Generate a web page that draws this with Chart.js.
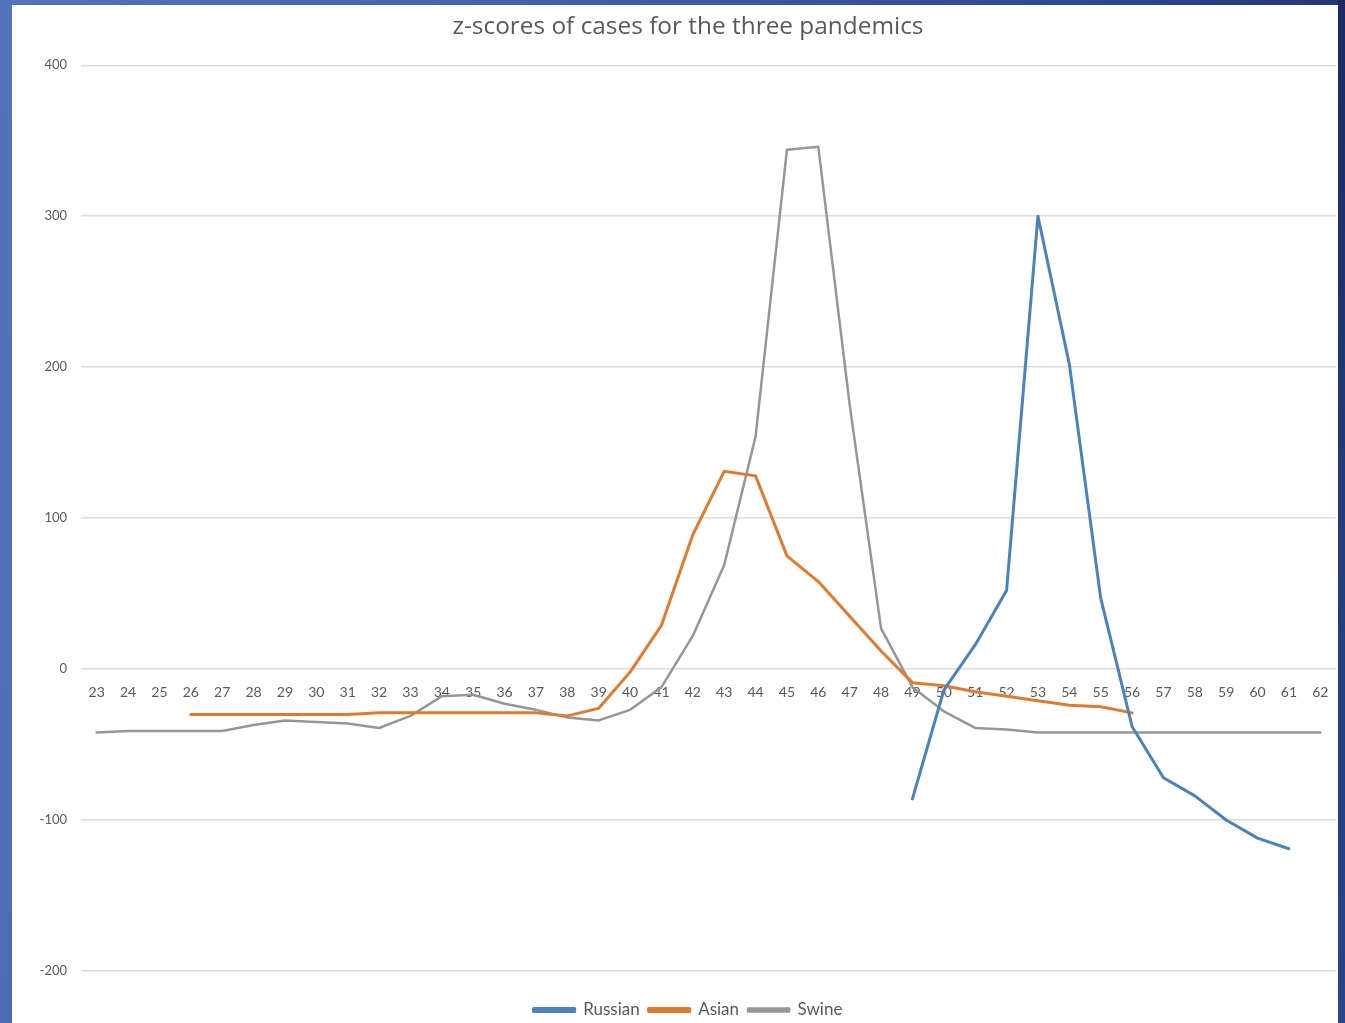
<!DOCTYPE html>
<html>
<head>
<meta charset="utf-8">
<title>z-scores of cases for the three pandemics</title>
<script src="https://cdn.jsdelivr.net/npm/chart.js@4"></script>
<style>
  html, body { margin: 0; padding: 0; }
  body {
    width: 1345px; height: 1023px; overflow: hidden; position: relative;
    background: linear-gradient(100deg, #5473bc 0%, #3e5ea8 40%, #2b458a 75%, #1b2a62 100%);
  }
  #panel {
    position: absolute; left: 12px; top: 5px; width: 1326px; height: 1018px;
    background: #ffffff;
  }
  #wrap {
    position: absolute; left: 12px; top: 5px; width: 1352px; height: 1018px;
  }
  #edge {
    position: absolute; left: 1338px; top: 0; width: 7px; height: 1023px;
    background: linear-gradient(180deg, #1b2a62 0%, #243a7a 50%, #2b458a 100%);
  }
</style>
</head>
<body>
<div id="panel"></div>
<div id="wrap"><canvas id="chart"></canvas></div>
<div id="edge"></div>
<script>
// Weeks on the category axis
const weeks = ['23','24','25','26','27','28','29','30','31','32','33','34','35','36','37','38','39','40','41','42',
               '43','44','45','46','47','48','49','50','51','52','53','54','55','56','57','58','59','60','61','62'];

// z-scores per week (null = no data for that week)
const russian = [null,null,null,null,null,null,null,null,null,null,null,null,null,null,null,null,null,null,null,null,
                 null,null,null,null,null,null,-86,-14,16,52,300,202,47,-38,-72,-84,-100,-112,-119,null];
const asian   = [null,null,null,-30,-30,-30,-30,-30,-30,-29,-29,-29,-29,-29,-29,-31,-26,-2,29,89,
                 131,128,75,58,35,12,-9,-11,-15,-18,-21,-24,-25,-29,null,null,null,null,null,null];
const swine   = [-42,-41,-41,-41,-41,-37,-34,-35,-36,-39,-31,-18,-17,-23,-27,-32,-34,-27,-12,22,
                 69,154,344,346,175,27,-12,-28,-39,-40,-42,-42,-42,-42,-42,-42,-42,-42,-42,-42];

const yTicks = [-200,-100,0,100,200,300,400];

const FONT = 'Lato, "Open Sans", sans-serif';
const TEXT = '#595959';

new Chart(document.getElementById('chart'), {
  type: 'line',
  data: {
    labels: weeks,
    datasets: [
      { label: 'Russian', data: russian, borderColor: '#4a82bc', backgroundColor: '#4a82bc', borderWidth: 3 },
      { label: 'Asian',   data: asian,   borderColor: '#e27a2e', backgroundColor: '#e27a2e', borderWidth: 3 },
      { label: 'Swine',   data: swine,   borderColor: '#969696', backgroundColor: '#969696', borderWidth: 2.5 }
    ]
  },
  options: {
    responsive: true,
    maintainAspectRatio: false,
    animation: false,
    elements: {
      point: { radius: 0, hoverRadius: 0 },
      line: { tension: 0, borderJoinStyle: 'round', borderCapStyle: 'round' }
    },
    layout: { padding: { left: 0, right: 0, top: 0, bottom: -5.5 } },
    plugins: {
      title: {
        display: true,
        text: 'z-scores of cases for the three pandemics',
        color: TEXT,
        font: { family: '"Open Sans", Lato, sans-serif', size: 24.4, weight: 'normal' },
        padding: { top: 7, bottom: 24 }
      },
      legend: {
        position: 'bottom',
        title: { display: true, text: '', font: { size: 10 }, padding: { top: 9.5, bottom: 0 } },
        labels: {
          color: TEXT,
          font: { family: FONT, size: 17 },
          boxWidth: 41,
          boxHeight: 3,
          padding: 9
        }
      },
      tooltip: { enabled: false }
    },
    scales: {
      x: {
        type: 'category',
        offset: true,
        position: { y: 0 },
        grid: { display: true, drawOnChartArea: false, drawTicks: true, tickLength: 12, color: 'rgba(0,0,0,0)' },
        border: { display: false },
        ticks: {
          color: TEXT,
          font: { family: FONT, size: 14 },
          padding: 3,
          maxRotation: 0,
          autoSkip: false
        }
      },
      y: {
        min: -200,
        max: 400,
        afterFit: (scale) => { scale.width = 69; },
        afterBuildTicks: (scale) => { scale.ticks = yTicks.map(v => ({ value: v })); },
        grid: { color: '#dcdcdc', lineWidth: 1.5, drawTicks: false },
        border: { display: false },
        ticks: {
          color: TEXT,
          font: { family: FONT, size: 13 },
          padding: 14
        }
      },
      // empty right-hand gutter that keeps the plot inside the white panel
      gutter: {
        type: 'linear',
        position: 'right',
        min: 0,
        max: 1,
        afterFit: (scale) => { scale.width = 28; },
        grid: { display: false, drawTicks: false },
        border: { display: false },
        ticks: { display: false }
      }
    }
  }
});
</script>
</body>
</html>
